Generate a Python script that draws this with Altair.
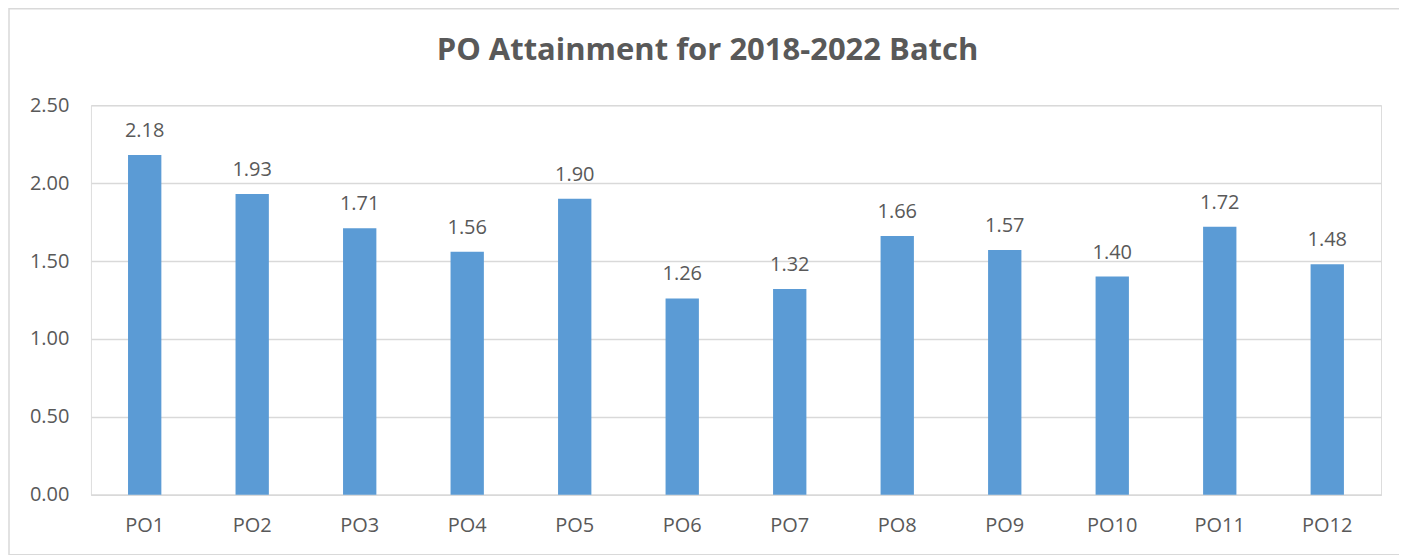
import altair as alt
import pandas as pd

categories = ["PO1", "PO2", "PO3", "PO4", "PO5", "PO6", "PO7", "PO8", "PO9", "PO10", "PO11", "PO12"]
values = [2.18, 1.93, 1.71, 1.56, 1.90, 1.26, 1.32, 1.66, 1.57, 1.40, 1.72, 1.48]
y_ticks = [0.0, 0.5, 1.0, 1.5, 2.0, 2.5]
title_text = "PO Attainment for 2018-2022 Batch"

df = pd.DataFrame({"PO": categories, "value": values})

FONT = "Open Sans"
TXT = "#595959"
GRID = "#D9D9D9"

x = alt.X("PO:N", sort=categories, title=None,
          scale=alt.Scale(paddingInner=0.69, paddingOuter=0.345),
          axis=alt.Axis(labelAngle=0, ticks=False, domain=True, domainColor=GRID, domainWidth=1.5,
                        labelFont=FONT, labelFontSize=20, labelColor=TXT, labelPadding=21, grid=False))
y = alt.Y("value:Q", title=None,
          scale=alt.Scale(domain=[0, 2.5], nice=False),
          axis=alt.Axis(values=y_ticks, format=".2f", ticks=False, domain=False, grid=True,
                        gridColor=GRID, gridWidth=1.5, labelFont=FONT, labelFontSize=20,
                        labelColor=TXT, labelPadding=22))

bars = alt.Chart(df).mark_bar(color="#5B9BD5").encode(x=x, y=y)
labels = alt.Chart(df).mark_text(font=FONT, fontSize=20, color=TXT, dy=-18, baseline="alphabetic").encode(
    x=alt.X("PO:N", sort=categories), y="value:Q", text=alt.Text("value:Q", format=".2f"))

border = alt.Chart(alt.Data(values=[{}])).mark_rect(fill=None, stroke=GRID, strokeWidth=1.5, clip=False).encode(
    x=alt.value(-82), x2=alt.value(1330), y=alt.value(-96.5), y2=alt.value(450))

title = alt.Chart(alt.Data(values=[{"t": title_text}])).mark_text(
    font=FONT, fontSize=31, fontWeight="bold", color=TXT, align="center", baseline="alphabetic").encode(
    x=alt.value(617), y=alt.value(-45), text="t:N")

chart = alt.layer(border, bars, labels, title).properties(
    width=1291, height=390,
    autosize=alt.AutoSizeParams(type="none"),
    padding={"left": 83, "top": 97, "right": 18, "bottom": 60},
).configure_view(stroke=None).configure(background="white")

chart.save("out.html", embed_options={"renderer": "svg", "actions": False})
